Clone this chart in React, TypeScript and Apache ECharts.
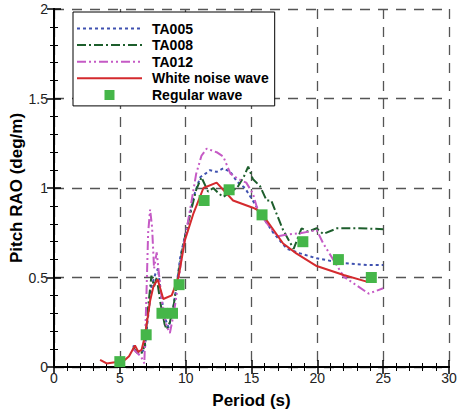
import React, { useEffect, useRef } from "react";
import * as echarts from "echarts";

const seriesNames = ["TA005", "TA008", "TA012", "White noise wave", "Regular wave"];

const ta005: [number, number][] = [
  [6.0, 0.12], [6.3, 0.09], [6.6, 0.08], [6.9, 0.1], [7.1, 0.25], [7.4, 0.45], [7.7, 0.52], [7.9, 0.55],
  [8.1, 0.42], [8.4, 0.28], [8.7, 0.22], [9.0, 0.3], [9.3, 0.45], [9.6, 0.62], [10.1, 0.78], [10.6, 0.95],
  [11.1, 1.06], [11.5, 1.08], [11.85, 1.1], [12.35, 1.09], [12.86, 1.11], [13.4, 1.09], [13.9, 1.035],
  [14.5, 1.0], [15.1, 0.93], [15.65, 0.86], [16.65, 0.75], [17.7, 0.66], [18.7, 0.635], [19.95, 0.607],
  [22.0, 0.58], [23.75, 0.57], [25.0, 0.57],
];

const ta008: [number, number][] = [
  [6.0, 0.11], [6.3, 0.08], [6.6, 0.07], [6.9, 0.12], [7.1, 0.3], [7.4, 0.51], [7.6, 0.45], [7.8, 0.5],
  [8.1, 0.35], [8.4, 0.24], [8.56, 0.21], [8.8, 0.25], [9.1, 0.35], [9.4, 0.5], [9.8, 0.68], [10.3, 0.84],
  [10.8, 0.99], [11.2, 1.06], [11.7, 0.98], [12.1, 1.0], [12.5, 0.97], [12.86, 0.95], [13.4, 0.98],
  [13.9, 1.0], [14.4, 1.06], [14.75, 1.12], [15.1, 1.05], [15.65, 1.01], [16.15, 0.93], [16.5, 0.93],
  [17.4, 0.765], [18.2, 0.66], [18.8, 0.775], [19.3, 0.756], [19.95, 0.775], [20.45, 0.743], [21.5, 0.775],
  [23.2, 0.775], [25.0, 0.77],
];

const ta012: [number, number][] = [
  [6.0, 0.1], [6.3, 0.08], [6.6, 0.06], [6.86, 0.02], [7.0, 0.35], [7.15, 0.75], [7.3, 0.88], [7.45, 0.78],
  [7.6, 0.55], [7.8, 0.64], [8.0, 0.5], [8.3, 0.3], [8.6, 0.22], [8.8, 0.19], [9.1, 0.3], [9.4, 0.45],
  [9.7, 0.62], [10.1, 0.78], [10.5, 0.95], [10.8, 1.08], [11.2, 1.18], [11.6, 1.22], [12.35, 1.2],
  [12.86, 1.175], [13.4, 1.08], [14.0, 1.05], [14.6, 1.03], [15.1, 0.97], [15.5, 0.87], [16.4, 0.78],
  [17.0, 0.73], [17.7, 0.74], [18.7, 0.747], [19.95, 0.765], [20.45, 0.69], [22.0, 0.505], [23.9, 0.41],
  [25.0, 0.44],
];

const whiteNoise: [number, number][] = [
  [3.5, 0.04], [4.0, 0.02], [4.5, 0.025], [5.0, 0.03], [5.4, 0.04], [5.7, 0.06], [6.15, 0.12], [6.4, 0.085],
  [6.65, 0.095], [6.9, 0.17], [7.3, 0.37], [7.55, 0.45], [7.87, 0.49], [8.3, 0.38], [8.94, 0.4], [9.45, 0.5],
  [9.95, 0.71], [10.6, 0.86], [11.35, 1.0], [12.35, 1.03], [13.6, 0.93], [15.1, 0.89], [15.4, 0.88],
  [16.15, 0.82], [17.4, 0.69], [18.4, 0.635], [19.95, 0.564], [22.0, 0.514], [23.75, 0.477],
];

const regularWave: [number, number][] = [
  [5.0, 0.03], [7.0, 0.18], [8.2, 0.3], [9.0, 0.3], [9.5, 0.46], [11.4, 0.93], [13.3, 0.99], [15.8, 0.85],
  [18.9, 0.7], [21.6, 0.6], [24.1, 0.5],
];

const FONT = "'Liberation Sans', Arial, Helvetica, sans-serif";

export default function App() {
  const ref = useRef<HTMLDivElement>(null);
  useEffect(() => {
    if (!ref.current) return;
    const chart = echarts.init(ref.current, undefined, { renderer: "svg" });
    const axisLine = { show: true, lineStyle: { color: "#000", width: 2 } };
    const tick = { show: true, inside: true, length: 7, lineStyle: { color: "#000", width: 1.5 } };
    const minor = { show: true, splitNumber: 5, length: 4, lineStyle: { color: "#000", width: 1 } };
    const split = { show: true, lineStyle: { color: "#555", width: 1.3, type: [10, 8] as number[] } };
    const lineSeries = (name: string, data: [number, number][], color: string, type: any) => ({
      name,
      type: "line",
      data,
      symbol: "none",
      showSymbol: false,
      lineStyle: { color, width: 2, type },
      itemStyle: { color },
    });
    const legendData = seriesNames.map((name, i) =>
      i < 4
        ? { name, itemStyle: { opacity: 0 } }
        : { name, icon: "path://M27.5,0h10v10h-10z M0,5h0.01v0.01h-0.01z M65,5h0.01v0.01h-0.01z" }
    );
    chart.setOption({
      animation: false,
      backgroundColor: "#fff",
      textStyle: { fontFamily: FONT },
      grid: { left: 54, right: 8, top: 9, bottom: 47, containLabel: false, outerBoundsMode: "none" },
      legend: {
        orient: "vertical",
        left: 73,
        top: 12,
        data: legendData,
        itemWidth: 65,
        itemHeight: 10,
        itemGap: 0.6,
        padding: [8.5, 6, 3, 3],
        backgroundColor: "#fff",
        borderColor: "#000",
        borderWidth: 1,
        borderRadius: 0,
        textStyle: {
          fontFamily: FONT,
          fontSize: 14,
          fontWeight: "bold",
          color: "#000",
          lineHeight: 16,
          padding: [0, 0, 0, 5],
        },
      },
      xAxis: [
        {
          type: "value",
          min: 0,
          max: 30,
          interval: 5,
          name: "Period (s)",
          nameLocation: "middle",
          nameGap: 25,
          nameMoveOverlap: false,
          nameTextStyle: { fontFamily: FONT, fontSize: 17, fontWeight: "bold", color: "#000" },
          axisLine,
          axisTick: tick,
          minorTick: minor,
          axisLabel: { fontFamily: FONT, fontSize: 14, color: "#222", margin: 4 },
          splitLine: split,
        },
        {
          type: "value",
          position: "top",
          min: 0,
          max: 30,
          interval: 5,
          axisLine,
          axisTick: tick,
          minorTick: minor,
          axisLabel: { show: false },
          splitLine: { show: false },
        },
      ],
      yAxis: [
        {
          type: "value",
          min: 0,
          max: 2,
          interval: 0.5,
          name: "Pitch RAO (deg/m)",
          nameLocation: "middle",
          nameGap: 29,
          nameMoveOverlap: false,
          nameTextStyle: { fontFamily: FONT, fontSize: 17, fontWeight: "bold", color: "#000" },
          axisLine,
          axisTick: tick,
          minorTick: minor,
          axisLabel: { fontFamily: FONT, fontSize: 14, color: "#222", margin: 6 },
          splitLine: split,
        },
        {
          type: "value",
          position: "right",
          min: 0,
          max: 2,
          interval: 0.5,
          axisLine,
          axisTick: tick,
          minorTick: minor,
          axisLabel: { show: false },
          splitLine: { show: false },
        },
      ],
      series: [
        lineSeries(seriesNames[0], ta005, "#3f51b0", [3, 3]),
        lineSeries(seriesNames[1], ta008, "#1d5e2c", [9, 3, 2, 3]),
        lineSeries(seriesNames[2], ta012, "#c55ac5", [9, 3, 2, 3, 2, 3]),
        lineSeries(seriesNames[3], whiteNoise, "#d42a2e", "solid"),
        {
          name: seriesNames[4],
          type: "scatter",
          data: regularWave,
          symbol: "rect",
          symbolSize: 11,
          itemStyle: { color: "#45b649", opacity: 1 },
          z: 5,
        },
      ],
    });
    return () => chart.dispose();
  }, []);
  return <div ref={ref} style={{ width: 457, height: 414, position: "absolute", left: 0, top: 0 }} />;
}
